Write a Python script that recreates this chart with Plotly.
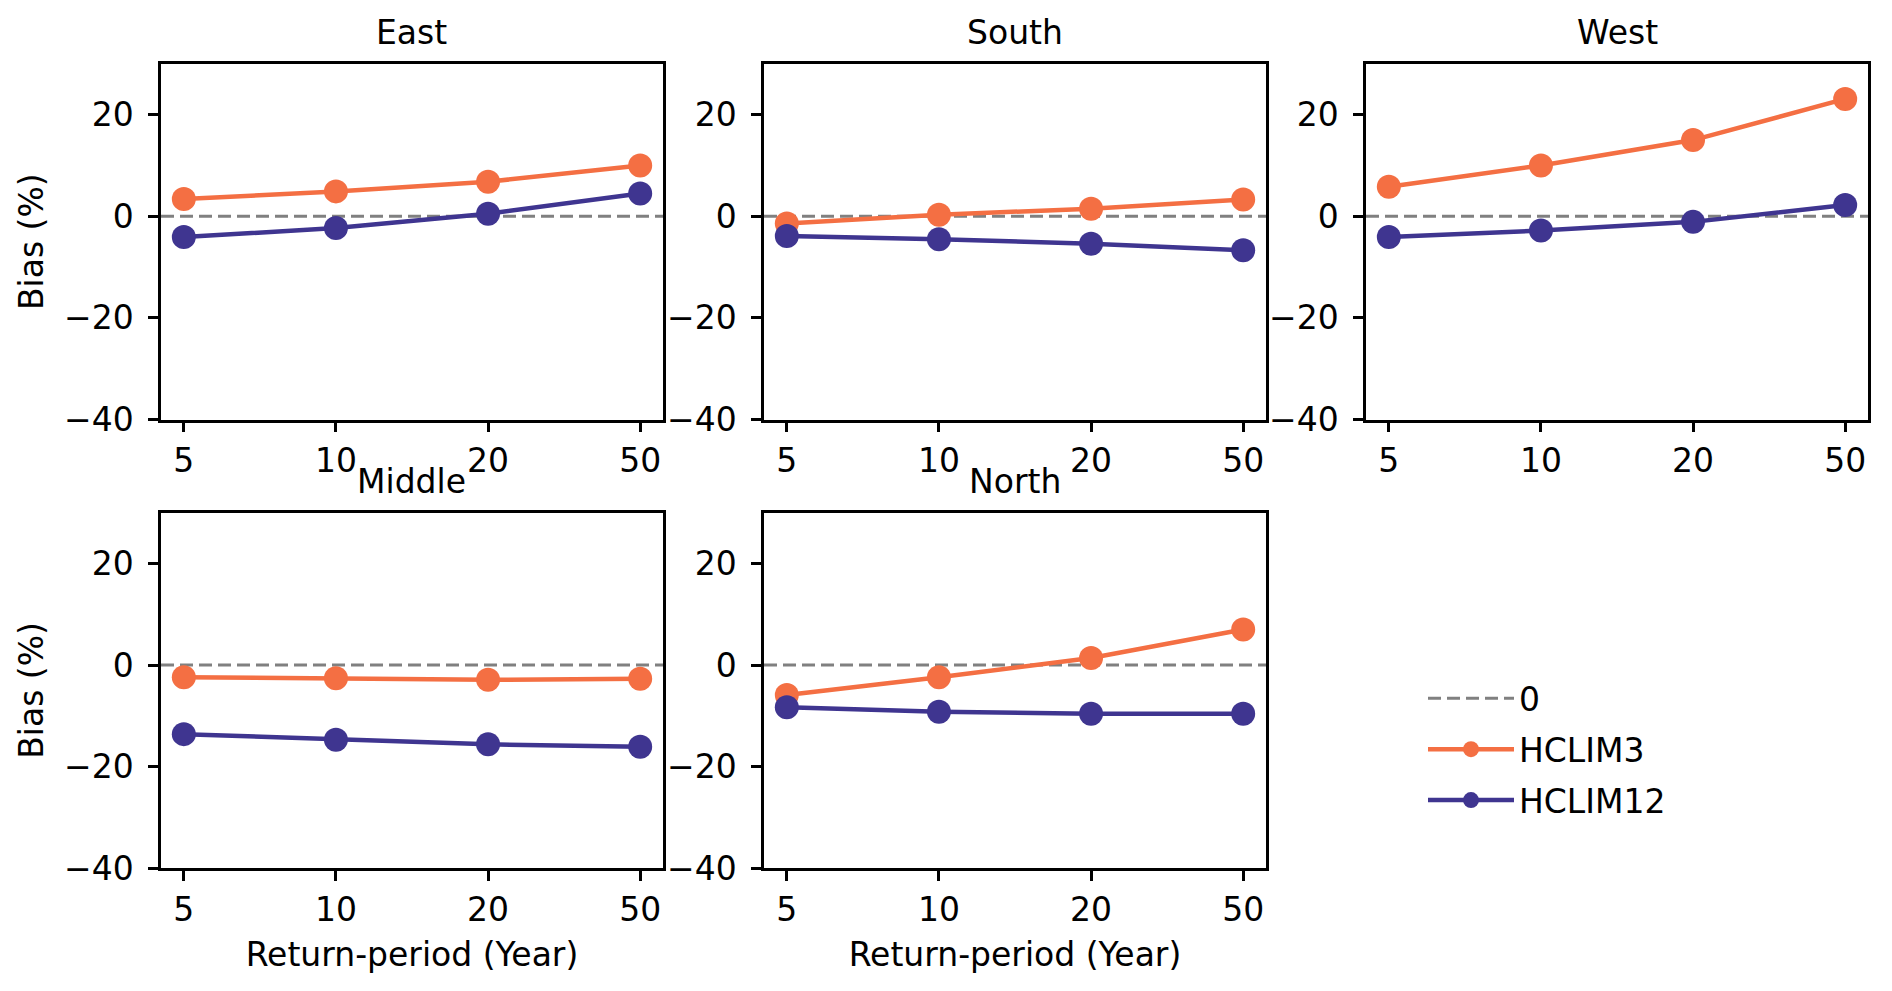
import plotly.graph_objects as go

# ---------------- data ----------------
return_periods = ["5", "10", "20", "50"]
regions = ["East", "South", "West", "Middle", "North"]

east_hclim3 = [3.4, 4.9, 6.8, 10.0]
east_hclim12 = [-4.1, -2.3, 0.5, 4.5]
south_hclim3 = [-1.4, 0.3, 1.5, 3.3]
south_hclim12 = [-3.9, -4.5, -5.4, -6.7]
west_hclim3 = [5.8, 10.0, 15.0, 23.1]
west_hclim12 = [-4.1, -2.8, -1.1, 2.2]
middle_hclim3 = [-2.4, -2.6, -2.9, -2.7]
middle_hclim12 = [-13.6, -14.7, -15.6, -16.1]
north_hclim3 = [-5.9, -2.4, 1.4, 7.0]
north_hclim12 = [-8.3, -9.2, -9.6, -9.6]

hclim3_series = [east_hclim3, south_hclim3, west_hclim3, middle_hclim3, north_hclim3]
hclim12_series = [east_hclim12, south_hclim12, west_hclim12, middle_hclim12, north_hclim12]

y_ticks = [-40, -20, 0, 20]
y_ticktext = ["\u221240", "\u221220", "0", "20"]

# ---------------- style ----------------
FONT = "DejaVu Sans"
FS = 33
ORANGE = "#f46f43"
PURPLE = "#3f3590"
GRAY = "#808080"

W, H = 1892, 991
col_dom = [[153 / W, 655 / W], [756 / W, 1258 / W], [1358 / W, 1860 / W]]
row_dom = [[1 - 420 / H, 1 - 57 / H], [1 - 878 / H, 1 - 515 / H]]
panel_pos = [(0, 0), (0, 1), (0, 2), (1, 0), (1, 1)]

fig = go.Figure()
annotations = []
shapes = []

for i, (region, h3, h12) in enumerate(zip(regions, hclim3_series, hclim12_series)):
    n = i + 1
    xa = "x" if n == 1 else f"x{n}"
    ya = "y" if n == 1 else f"y{n}"
    r, c = panel_pos[i]

    fig.add_trace(go.Scatter(
        x=return_periods, y=h3, mode="lines+markers", name="HCLIM3",
        line=dict(color=ORANGE, width=4.5), marker=dict(color=ORANGE, size=24),
        xaxis=xa, yaxis=ya, showlegend=(i == 0), legendgroup="h3", legendrank=2,
    ))
    fig.add_trace(go.Scatter(
        x=return_periods, y=h12, mode="lines+markers", name="HCLIM12",
        line=dict(color=PURPLE, width=4.5), marker=dict(color=PURPLE, size=24),
        xaxis=xa, yaxis=ya, showlegend=(i == 0), legendgroup="h12", legendrank=3,
    ))

    shapes.append(dict(
        type="line", xref=f"{xa} domain", x0=0, x1=1, yref=ya, y0=0, y1=0,
        line=dict(color=GRAY, width=3, dash="13px,6px"), layer="below",
        showlegend=(i == 0), name="0", legendgroup="zero", legendrank=1,
    ))

    axis_common = dict(
        showline=True, mirror=True, linecolor="black", linewidth=2.5,
        ticks="outside", ticklen=10, tickwidth=2.5, tickcolor="black",
        showgrid=False, zeroline=False,
        tickfont=dict(family=FONT, size=FS, color="black"),
    )
    xkey = "xaxis" if n == 1 else f"xaxis{n}"
    ykey = "yaxis" if n == 1 else f"yaxis{n}"
    xaxis = dict(axis_common, type="category", range=[-0.15, 3.15],
                 domain=col_dom[c], anchor=ya)
    if r == 1:
        xaxis["title"] = dict(text="Return-period (Year)", standoff=16,
                              font=dict(family=FONT, size=FS, color="black"))
    yaxis = dict(axis_common, range=[-40, 30], tickvals=y_ticks, ticktext=y_ticktext,
                 domain=row_dom[r], anchor=xa, ticklabelstandoff=8)
    if c == 0:
        yaxis["title"] = dict(text="Bias (%)", standoff=11,
                              font=dict(family=FONT, size=FS, color="black"))
    fig.update_layout(**{xkey: xaxis, ykey: yaxis})

    annotations.append(dict(
        text=region, xref="paper", yref="paper",
        x=(col_dom[c][0] + col_dom[c][1]) / 2,
        y=row_dom[r][1] + 10 / H, xanchor="center", yanchor="bottom",
        showarrow=False, font=dict(family=FONT, size=FS, color="black"),
    ))

fig.update_layout(
    width=W, height=H,
    margin=dict(l=0, r=0, t=0, b=0),
    paper_bgcolor="white", plot_bgcolor="white",
    font=dict(family=FONT, size=FS, color="black"),
    annotations=annotations, shapes=shapes,
    legend=dict(x=1415 / W, y=1 - 676 / H, xanchor="left", yanchor="top",
                font=dict(family=FONT, size=FS, color="black"),
                bgcolor="rgba(0,0,0,0)", itemwidth=86, tracegroupgap=5),
)

fig.write_html("out.html")
